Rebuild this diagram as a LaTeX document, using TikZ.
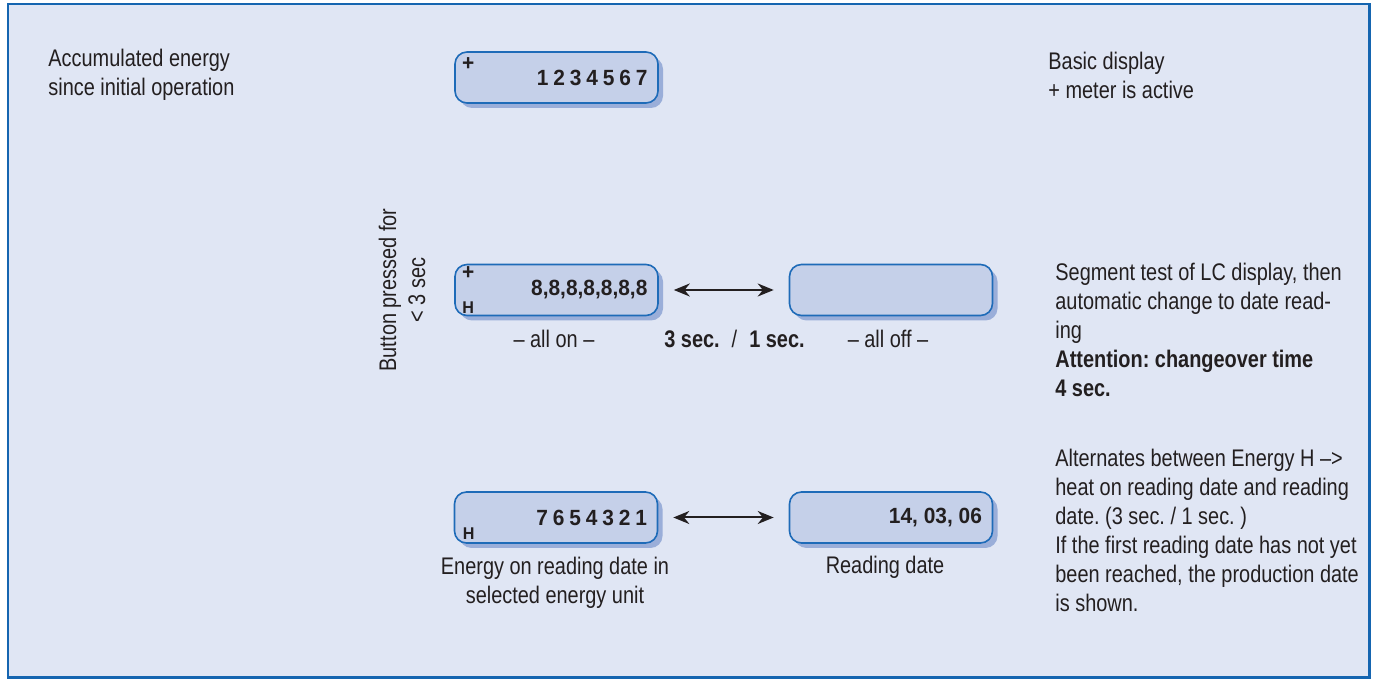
\documentclass[tikz,border=0pt]{standalone}
\usepackage{fontspec}
\setmainfont{Liberation Sans}[FakeStretch=0.83]
\newfontfamily\lcdfont{Liberation Sans}[FakeStretch=0.95]
\usepackage{xcolor}
\usepackage{tikz}
\usetikzlibrary{arrows.meta,positioning,shadows}
\frenchspacing

\definecolor{fond}{HTML}{E0E6F4}
\definecolor{cadre}{HTML}{1565B0}
\definecolor{bord}{HTML}{1E6BB8}
\definecolor{ecran}{HTML}{C5D0E9}
\definecolor{ombre}{HTML}{9AAED9}
\definecolor{encre}{HTML}{231F20}

\tikzstyle{lcd}=[draw=bord, fill=ecran, line width=0.8pt, rounded corners=6pt,
  minimum width=101.5pt, minimum height=25.5pt, inner sep=0pt,
  drop shadow={shadow xshift=2.5pt, shadow yshift=-2.5pt, fill=ombre, opacity=1}]
\tikzstyle{alterne}=[{Stealth[length=8pt,width=6.5pt]}-{Stealth[length=8pt,width=6.5pt]},
  line width=1pt, draw=encre, shorten <=7.5pt, shorten >=7.5pt]
\tikzstyle{chiffres}=[font=\lcdfont\bfseries\fontsize{11}{13}\selectfont, anchor=east, inner sep=0pt]
\tikzstyle{petit}=[font=\lcdfont\bfseries\fontsize{8.5}{9}\selectfont, inner sep=0pt]
\tikzstyle{texte}=[inner sep=0pt, align=left, anchor=west]
\tikzstyle{legende}=[inner sep=0pt, align=center]

\begin{document}
\begin{tikzpicture}[x=0.5pt, y=-0.5pt, text=encre, font=\fontsize{12}{14.5}\selectfont]

\fill[white] (0,0) rectangle (1373,679);
\useasboundingbox (0,0) rectangle (1373,679);

% cadre
\draw[draw=cadre, fill=fond, line width=1.25pt] (8,4) rectangle (1369.5,677.5);

% basic display
\node[lcd] (total) at (556.5,77.5) {};
\node[petit, font=\lcdfont\bfseries\fontsize{11}{12}\selectfont] at ([xshift=7pt,yshift=-6.5pt]total.north west) {+};
\node[chiffres] at ([xshift=-5.5pt]total.east) {\addfontfeatures{LetterSpace=22}1234567};
\node[texte] at (48,75) {Accumulated energy\\since initial operation};
\node[texte] at (1048,75) {Basic display\\+ meter is active};

% button
\node[legende, rotate=90] at (402,290) {Button pressed for\\< 3 sec};

% segment test
\node[lcd] (allon) at (556.5,290) {};
\node[lcd] (alloff) at (891,290) {};
\node[petit, font=\lcdfont\bfseries\fontsize{11}{12}\selectfont] at ([xshift=7pt,yshift=-4.5pt]allon.north west) {+};
\node[petit] at ([xshift=7pt,yshift=4.5pt]allon.south west) {H};
\node[chiffres] at ([xshift=-5.5pt]allon.east) {8,8,8,8,8,8,8};
\draw[alterne] (allon) -- (alloff);
\node[legende] at (554,339) {-- all on --};
\node[legende] at (734.5,339) {\textbf{3 sec.}\enspace/\enspace\textbf{1 sec.}};
\node[legende] at (888,339) {-- all off --};
\node[texte] at (1055,330) {Segment test of LC display, then\\automatic change to date read-\\ing\\
  \textbf{Attention: changeover time}\\\textbf{4 sec.}};

% reading date
\node[lcd] (energie) at (556,517.5) {};
\node[lcd] (date) at (891,517.5) {};
\node[petit] at ([xshift=7.5pt,yshift=5pt]energie.south west) {H};
\node[chiffres] at ([xshift=-5.5pt]energie.east) {\addfontfeatures{LetterSpace=22}7654321};
\node[chiffres] at ([xshift=-5.5pt]date.east) {14, 03, 06};
\draw[alterne] (energie) -- (date);
\node[legende] at (555,583) {Energy on reading date in\\selected energy unit};
\node[legende] at (885,567) {Reading date};
\node[texte] at (1055,530.5) {Alternates between Energy H -->\\heat on reading date and reading\\
  date. (3 sec. / 1 sec. )\\If the first reading date has not yet\\been reached, the production date\\is shown.};

\end{tikzpicture}
\end{document}
